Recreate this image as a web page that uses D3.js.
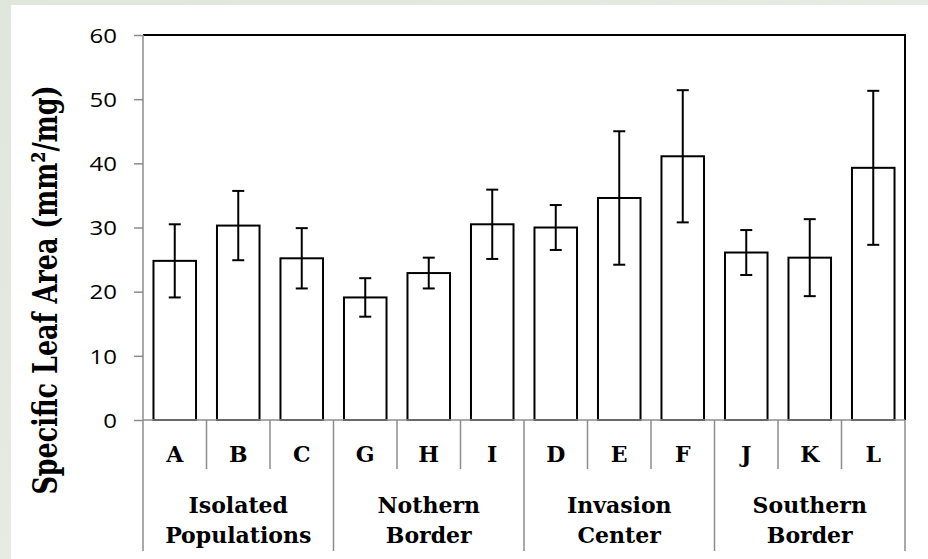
<!DOCTYPE html>
<html>
<head>
<meta charset="utf-8">
<script src="https://cdn.jsdelivr.net/npm/d3@7"></script>
<style>
  body { margin: 0; }
  svg { display: block; }
</style>
</head>
<body>
<script>
const canvWidth = 928, canvHeight = 559;

// data
const categories = ["A", "B", "C", "G", "H", "I", "D", "E", "F", "J", "K", "L"];
const groups = [["Isolated", "Populations"], ["Nothern", "Border"], ["Invasion", "Center"], ["Southern", "Border"]];
const sla = [24.8, 30.3, 25.2, 19.1, 22.9, 30.5, 30.0, 34.6, 41.1, 26.1, 25.3, 39.3];
const slaErr = [5.7, 5.4, 4.7, 3.0, 2.4, 5.4, 3.5, 10.4, 10.3, 3.5, 6.0, 12.0];
const yTicks = [0, 10, 20, 30, 40, 50, 60];

const plot = {left: 143, right: 905, top: 35, bottom: 420, base: 551};
const axisGrey = "#8c8c8c";
const stretch = 1.2;  // the source text is a bit wider than the fonts we have

const svg = d3.select("body").append("svg")
    .attr("width", canvWidth)
    .attr("height", canvHeight);

// greenish slide background behind a white panel
const grad = svg.append("defs").append("linearGradient")
    .attr("id", "bg").attr("x1", "0").attr("y1", "0").attr("x2", "1").attr("y2", "1");
grad.append("stop").attr("offset", "0%").attr("stop-color", "#dfe6db");
grad.append("stop").attr("offset", "50%").attr("stop-color", "#e6ebe3");
grad.append("stop").attr("offset", "100%").attr("stop-color", "#dde5d8");

svg.append("rect")
    .attr("width", canvWidth).attr("height", canvHeight)
    .attr("fill", "url(#bg)");
svg.append("rect")
    .attr("x", 11).attr("y", 5)
    .attr("width", canvWidth - 11).attr("height", canvHeight - 5)
    .attr("fill", "#fff");

const xScale = d3.scaleBand()
    .domain(categories)
    .range([plot.left, plot.right])
    .padding(0);

const yScale = d3.scaleLinear()
    .domain([0, 60])
    .range([plot.bottom, plot.top]);

const bw = xScale.bandwidth();

// top and right frame (black)
svg.append("path")
    .attr("d", `M${plot.left},${yScale(60)}H${plot.right}V${yScale(0)}`)
    .attr("fill", "none")
    .attr("stroke", "#000")
    .attr("stroke-width", 2);

// y axis
const yAxis = d3.axisLeft(yScale)
    .tickValues(yTicks)
    .tickSize(9)
    .tickSizeOuter(0)
    .tickPadding(17);

const yg = svg.append("g")
    .attr("transform", `translate(${plot.left},0)`)
    .call(yAxis)
    .attr("font-family", "'Open Sans', sans-serif")
    .attr("font-size", 20);
yg.select(".domain").remove();
yg.selectAll(".tick line")
    .attr("stroke", axisGrey)
    .attr("stroke-width", 1.5);
yg.selectAll(".tick text")
    .attr("fill", "#000")
    .attr("x", -26 / stretch)
    .attr("dy", "0.36em")
    .attr("transform", `scale(${stretch},1)`);

// left axis line running down through the category table
svg.append("line")
    .attr("x1", plot.left).attr("x2", plot.left)
    .attr("y1", yScale(60)).attr("y2", plot.base)
    .attr("stroke", axisGrey).attr("stroke-width", 1.5);

// bars
svg.selectAll("rect.bar")
    .data(categories)
    .enter().append("rect")
    .attr("class", "bar")
    .attr("x", d => xScale(d) + bw * 0.165)
    .attr("y", (d, i) => yScale(sla[i]))
    .attr("width", bw * 0.67)
    .attr("height", (d, i) => yScale(0) - yScale(sla[i]))
    .attr("fill", "#fff")
    .attr("stroke", "#000")
    .attr("stroke-width", 2);

// error bars
const eb = svg.selectAll("g.err")
    .data(categories)
    .enter().append("g")
    .attr("class", "err")
    .attr("stroke", "#000")
    .attr("stroke-width", 2);

eb.append("line")
    .attr("x1", d => xScale(d) + bw / 2)
    .attr("x2", d => xScale(d) + bw / 2)
    .attr("y1", (d, i) => yScale(sla[i] - slaErr[i]))
    .attr("y2", (d, i) => yScale(sla[i] + slaErr[i]));
eb.append("line")
    .attr("x1", d => xScale(d) + bw / 2 - 6)
    .attr("x2", d => xScale(d) + bw / 2 + 6)
    .attr("y1", (d, i) => yScale(sla[i] + slaErr[i]))
    .attr("y2", (d, i) => yScale(sla[i] + slaErr[i]));
eb.append("line")
    .attr("x1", d => xScale(d) + bw / 2 - 6)
    .attr("x2", d => xScale(d) + bw / 2 + 6)
    .attr("y1", (d, i) => yScale(sla[i] - slaErr[i]))
    .attr("y2", (d, i) => yScale(sla[i] - slaErr[i]));

// x axis line (grey) at zero
svg.append("line")
    .attr("x1", plot.left).attr("x2", plot.right)
    .attr("y1", yScale(0)).attr("y2", yScale(0))
    .attr("stroke", axisGrey).attr("stroke-width", 1.5);

// dividers in the category table
categories.forEach((c, i) => {
    if (i === 0) return;
    const isGroup = i % 3 === 0;
    svg.append("line")
        .attr("x1", xScale(c)).attr("x2", xScale(c))
        .attr("y1", yScale(0))
        .attr("y2", isGroup ? plot.base : 469)
        .attr("stroke", axisGrey).attr("stroke-width", 1.5);
});
svg.append("line")
    .attr("x1", plot.right).attr("x2", plot.right)
    .attr("y1", yScale(0)).attr("y2", plot.base)
    .attr("stroke", axisGrey).attr("stroke-width", 1.5);

// category labels
svg.selectAll("text.cat")
    .data(categories)
    .enter().append("text")
    .attr("class", "cat")
    .attr("x", d => xScale(d) + bw / 2)
    .attr("y", 462)
    .attr("text-anchor", "middle")
    .attr("font-family", "'DejaVu Serif', serif")
    .attr("font-weight", "bold")
    .attr("font-size", "22px")
    .text(d => d);

// group labels
groups.forEach((lines, gi) => {
    const cx = xScale(categories[gi * 3]) + bw * 1.5;
    lines.forEach((t, li) => {
        svg.append("text")
            .attr("x", cx)
            .attr("y", 512.5 + li * 30)
            .attr("text-anchor", "middle")
            .attr("font-family", "'DejaVu Serif', serif")
            .attr("font-weight", "bold")
            .attr("font-size", "22px")
            .text(t);
    });
});

// y axis title
svg.append("text")
    .attr("transform", "translate(57,290) rotate(-90) scale(1,1.35)")
    .attr("text-anchor", "middle")
    .attr("font-family", "'DejaVu Serif', serif")
    .attr("font-weight", "bold")
    .attr("font-size", "25.5px")
    .text("Specific Leaf Area (mm²/mg)");
</script>
</body>
</html>
